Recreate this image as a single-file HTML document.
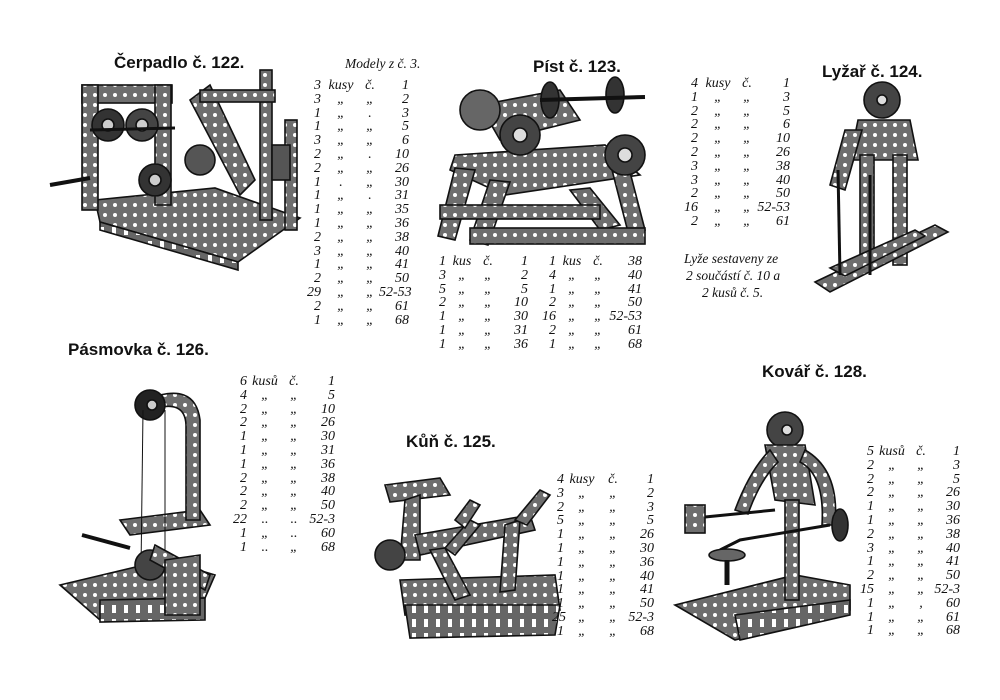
<!DOCTYPE html>
<html><head><meta charset="utf-8">
<style>
body{margin:0;background:#fff;}
#p{position:relative;width:1000px;height:700px;overflow:hidden;background:#fff;}
.h{position:absolute;font-family:"Liberation Sans",sans-serif;font-weight:bold;font-size:17px;color:#111;white-space:nowrap;}
.l{position:absolute;font-family:"Liberation Serif",serif;font-style:italic;font-size:14px;color:#111;}
.r{display:grid;height:13.8px;line-height:13.8px;white-space:nowrap;}
.r span:first-child,.r span:last-child{text-align:right;}
.r span:nth-child(2),.r span:nth-child(3){text-align:center;}
.t{position:absolute;font-family:"Liberation Serif",serif;font-style:italic;font-size:13.5px;color:#111;white-space:nowrap;}
svg{position:absolute;left:0;top:0;}
</style></head><body><div id="p">
<svg width="1000" height="700">
<defs>
<pattern id="ho" width="10" height="10" patternUnits="userSpaceOnUse"><rect width="10" height="10" fill="#6e6e6e"/><circle cx="5" cy="5" r="2" fill="#fff"/></pattern>
<pattern id="sl" width="12" height="14" patternUnits="userSpaceOnUse"><rect width="12" height="14" fill="#666"/><rect x="4" y="3" width="4" height="8" fill="#fff"/></pattern>
</defs>
<g stroke="#111" stroke-width="1.6">
<polygon points="95,200 215,188 300,218 238,262 100,222" fill="url(#ho)"/>
<polygon points="100,222 238,262 238,270 100,230" fill="url(#sl)"/>
<rect x="82" y="85" width="90" height="18" fill="url(#ho)"/>
<rect x="82" y="85" width="16" height="125" fill="url(#ho)"/>
<rect x="155" y="85" width="16" height="120" fill="url(#ho)"/>
<polygon points="190,100 210,85 255,180 240,195" fill="url(#ho)"/>
<rect x="260" y="70" width="12" height="150" fill="url(#ho)"/>
<rect x="200" y="90" width="75" height="12" fill="url(#ho)"/>
<rect x="285" y="120" width="12" height="110" fill="url(#ho)"/>
<rect x="272" y="145" width="18" height="35" fill="#555"/>
<circle cx="108" cy="125" r="16" fill="#333"/><circle cx="108" cy="125" r="6" fill="#ccc"/>
<circle cx="142" cy="125" r="16" fill="#444"/><circle cx="142" cy="125" r="6" fill="#ccc"/>
<circle cx="155" cy="180" r="16" fill="#333"/><circle cx="155" cy="180" r="6" fill="#ccc"/>
<circle cx="200" cy="160" r="15" fill="#555"/>
<line x1="50" y1="185" x2="90" y2="178" stroke-width="4"/>
<line x1="90" y1="130" x2="175" y2="128" stroke-width="3"/>
<polygon points="455,155 605,145 640,175 505,195 450,170" fill="url(#ho)"/>
<polygon points="455,168 475,170 455,240 438,236" fill="url(#ho)"/>
<polygon points="490,180 510,182 488,245 470,240" fill="url(#ho)"/>
<polygon points="570,190 590,188 620,225 600,230" fill="url(#ho)"/>
<polygon points="612,170 630,172 645,230 628,232" fill="url(#ho)"/>
<rect x="470" y="228" width="175" height="16" fill="url(#ho)"/>
<rect x="440" y="205" width="160" height="14" fill="url(#ho)"/>
<polygon points="480,105 560,90 580,120 500,140" fill="url(#ho)"/>
<circle cx="480" cy="110" r="20" fill="#666"/>
<circle cx="520" cy="135" r="20" fill="#444"/><circle cx="520" cy="135" r="7" fill="#ddd"/>
<circle cx="625" cy="155" r="20" fill="#444"/><circle cx="625" cy="155" r="7" fill="#ddd"/>
<ellipse cx="550" cy="100" rx="9" ry="18" fill="#333"/><ellipse cx="615" cy="95" rx="9" ry="18" fill="#333"/>
<line x1="540" y1="100" x2="645" y2="97" stroke-width="4"/>
<circle cx="882" cy="100" r="18" fill="#444"/><circle cx="882" cy="100" r="5" fill="#ddd"/>
<polygon points="858,120 910,120 918,160 850,160" fill="url(#ho)"/>
<polygon points="845,130 862,130 845,190 830,185" fill="url(#ho)"/>
<rect x="860" y="155" width="14" height="110" fill="url(#ho)"/>
<rect x="893" y="155" width="14" height="110" fill="url(#ho)"/>
<polygon points="815,282 935,225 948,232 830,292" fill="url(#ho)"/>
<polygon points="830,268 915,230 925,236 845,276" fill="url(#ho)"/>
<line x1="838" y1="170" x2="840" y2="275" stroke-width="3"/>
<line x1="870" y1="175" x2="870" y2="275" stroke-width="3"/>
<polygon points="60,585 165,560 215,575 205,598 100,620" fill="url(#ho)"/>
<polygon points="100,600 205,598 205,620 100,622" fill="url(#sl)"/>
<polygon points="120,520 200,510 210,525 130,535" fill="url(#ho)"/>
<path d="M145,400 Q195,380 200,420 L200,520 L186,520 L186,425 Q185,398 150,410 Z" fill="url(#ho)"/>
<circle cx="150" cy="405" r="15" fill="#222"/><circle cx="152" cy="405" r="5" fill="#ccc"/>
<line x1="143" y1="410" x2="141" y2="570" stroke-width="1"/><line x1="165" y1="410" x2="165" y2="570" stroke-width="1"/>
<circle cx="150" cy="565" r="15" fill="#444"/>
<polygon points="155,545 210,575 205,590 150,560" fill="url(#ho)"/>
<polygon points="165,560 200,555 200,615 165,615" fill="url(#ho)"/>
<line x1="82" y1="535" x2="130" y2="548" stroke-width="4"/>
<polygon points="400,580 555,575 560,610 405,615" fill="url(#ho)"/>
<polygon points="405,605 560,605 555,635 410,638" fill="url(#sl)"/>
<polygon points="385,485 440,478 450,495 390,502" fill="url(#ho)"/>
<polygon points="405,500 420,495 420,560 400,560" fill="url(#ho)"/>
<polygon points="415,535 530,515 535,530 420,555" fill="url(#ho)"/>
<polygon points="430,550 445,548 470,595 455,600" fill="url(#ho)"/>
<polygon points="445,548 470,520 480,525 455,555" fill="url(#ho)"/>
<polygon points="505,525 520,520 515,590 500,592" fill="url(#ho)"/>
<polygon points="515,520 540,490 550,495 527,525" fill="url(#ho)"/>
<polygon points="455,520 470,500 480,505 465,528" fill="url(#ho)"/>
<circle cx="390" cy="555" r="15" fill="#444"/>
<polygon points="675,605 795,575 850,585 850,610 735,640" fill="url(#ho)"/>
<polygon points="735,615 850,600 850,615 740,640" fill="url(#sl)"/>
<circle cx="785" cy="430" r="18" fill="#444"/><circle cx="787" cy="430" r="5" fill="#ddd"/>
<polygon points="765,445 805,445 815,505 775,500" fill="url(#ho)"/>
<rect x="785" y="500" width="14" height="100" fill="url(#ho)"/>
<path d="M805,450 Q840,470 835,525 L822,525 Q825,475 800,462 Z" fill="url(#ho)"/>
<path d="M770,450 Q750,470 735,510 L748,514 Q760,480 778,462 Z" fill="url(#ho)"/>
<ellipse cx="840" cy="525" rx="8" ry="16" fill="#333"/>
<rect x="685" y="505" width="20" height="28" fill="url(#ho)"/>
<line x1="705" y1="517" x2="775" y2="510" stroke-width="3"/>
<path d="M720,550 L740,540 L830,525" fill="none" stroke-width="3"/>
<ellipse cx="727" cy="555" rx="18" ry="6" fill="#666"/>
<line x1="727" y1="560" x2="727" y2="585" stroke-width="5"/>
</g>
</svg>

<div class="h" style="left:114px;top:53px;">Čerpadlo č. 122.</div>
<div class="h" style="left:533px;top:57px;">Píst č. 123.</div>
<div class="h" style="left:822px;top:62px;">Lyžař č. 124.</div>
<div class="h" style="left:68px;top:340px;">Pásmovka č. 126.</div>
<div class="h" style="left:406px;top:432px;">Kůň č. 125.</div>
<div class="h" style="left:762px;top:362px;">Kovář č. 128.</div>
<div class="t" style="left:345px;top:56px;">Modely z č. 3.</div>

<div class="l" style="left:305px;top:79px;">
<div class="r" style="grid-template-columns:16px 40px 18px 30px"><span>3</span><span>kusy</span><span>č.</span><span>1</span></div>
<div class="r" style="grid-template-columns:16px 40px 18px 30px"><span>3</span><span>„</span><span>„</span><span>2</span></div>
<div class="r" style="grid-template-columns:16px 40px 18px 30px"><span>1</span><span>„</span><span>.</span><span>3</span></div>
<div class="r" style="grid-template-columns:16px 40px 18px 30px"><span>1</span><span>„</span><span>„</span><span>5</span></div>
<div class="r" style="grid-template-columns:16px 40px 18px 30px"><span>3</span><span>„</span><span>„</span><span>6</span></div>
<div class="r" style="grid-template-columns:16px 40px 18px 30px"><span>2</span><span>„</span><span>.</span><span>10</span></div>
<div class="r" style="grid-template-columns:16px 40px 18px 30px"><span>2</span><span>„</span><span>„</span><span>26</span></div>
<div class="r" style="grid-template-columns:16px 40px 18px 30px"><span>1</span><span>.</span><span>„</span><span>30</span></div>
<div class="r" style="grid-template-columns:16px 40px 18px 30px"><span>1</span><span>„</span><span>.</span><span>31</span></div>
<div class="r" style="grid-template-columns:16px 40px 18px 30px"><span>1</span><span>„</span><span>„</span><span>35</span></div>
<div class="r" style="grid-template-columns:16px 40px 18px 30px"><span>1</span><span>„</span><span>„</span><span>36</span></div>
<div class="r" style="grid-template-columns:16px 40px 18px 30px"><span>2</span><span>„</span><span>„</span><span>38</span></div>
<div class="r" style="grid-template-columns:16px 40px 18px 30px"><span>3</span><span>„</span><span>„</span><span>40</span></div>
<div class="r" style="grid-template-columns:16px 40px 18px 30px"><span>1</span><span>„</span><span>„</span><span>41</span></div>
<div class="r" style="grid-template-columns:16px 40px 18px 30px"><span>2</span><span>„</span><span>„</span><span>50</span></div>
<div class="r" style="grid-template-columns:16px 40px 18px 30px"><span>29</span><span>„</span><span>„</span><span>52-53</span></div>
<div class="r" style="grid-template-columns:16px 40px 18px 30px"><span>2</span><span>„</span><span>„</span><span>61</span></div>
<div class="r" style="grid-template-columns:16px 40px 18px 30px"><span>1</span><span>„</span><span>„</span><span>68</span></div>
</div>

<div class="l" style="left:436px;top:255px;">
<div class="r" style="grid-template-columns:10px 32px 20px 30px"><span>1</span><span>kus</span><span>č.</span><span>1</span></div>
<div class="r" style="grid-template-columns:10px 32px 20px 30px"><span>3</span><span>„</span><span>„</span><span>2</span></div>
<div class="r" style="grid-template-columns:10px 32px 20px 30px"><span>5</span><span>„</span><span>„</span><span>5</span></div>
<div class="r" style="grid-template-columns:10px 32px 20px 30px"><span>2</span><span>„</span><span>„</span><span>10</span></div>
<div class="r" style="grid-template-columns:10px 32px 20px 30px"><span>1</span><span>„</span><span>„</span><span>30</span></div>
<div class="r" style="grid-template-columns:10px 32px 20px 30px"><span>1</span><span>„</span><span>„</span><span>31</span></div>
<div class="r" style="grid-template-columns:10px 32px 20px 30px"><span>1</span><span>„</span><span>„</span><span>36</span></div>
</div>
<div class="l" style="left:540px;top:255px;">
<div class="r" style="grid-template-columns:16px 32px 20px 34px"><span>1</span><span>kus</span><span>č.</span><span>38</span></div>
<div class="r" style="grid-template-columns:16px 32px 20px 34px"><span>4</span><span>„</span><span>„</span><span>40</span></div>
<div class="r" style="grid-template-columns:16px 32px 20px 34px"><span>1</span><span>„</span><span>„</span><span>41</span></div>
<div class="r" style="grid-template-columns:16px 32px 20px 34px"><span>2</span><span>„</span><span>„</span><span>50</span></div>
<div class="r" style="grid-template-columns:16px 32px 20px 34px"><span>16</span><span>„</span><span>„</span><span>52-53</span></div>
<div class="r" style="grid-template-columns:16px 32px 20px 34px"><span>2</span><span>„</span><span>„</span><span>61</span></div>
<div class="r" style="grid-template-columns:16px 32px 20px 34px"><span>1</span><span>„</span><span>„</span><span>68</span></div>
</div>

<div class="l" style="left:684px;top:77px;">
<div class="r" style="grid-template-columns:14px 40px 18px 34px"><span>4</span><span>kusy</span><span>č.</span><span>1</span></div>
<div class="r" style="grid-template-columns:14px 40px 18px 34px"><span>1</span><span>„</span><span>„</span><span>3</span></div>
<div class="r" style="grid-template-columns:14px 40px 18px 34px"><span>2</span><span>„</span><span>„</span><span>5</span></div>
<div class="r" style="grid-template-columns:14px 40px 18px 34px"><span>2</span><span>„</span><span>„</span><span>6</span></div>
<div class="r" style="grid-template-columns:14px 40px 18px 34px"><span>2</span><span>„</span><span>„</span><span>10</span></div>
<div class="r" style="grid-template-columns:14px 40px 18px 34px"><span>2</span><span>„</span><span>„</span><span>26</span></div>
<div class="r" style="grid-template-columns:14px 40px 18px 34px"><span>3</span><span>„</span><span>„</span><span>38</span></div>
<div class="r" style="grid-template-columns:14px 40px 18px 34px"><span>3</span><span>„</span><span>„</span><span>40</span></div>
<div class="r" style="grid-template-columns:14px 40px 18px 34px"><span>2</span><span>„</span><span>„</span><span>50</span></div>
<div class="r" style="grid-template-columns:14px 40px 18px 34px"><span>16</span><span>„</span><span>„</span><span>52-53</span></div>
<div class="r" style="grid-template-columns:14px 40px 18px 34px"><span>2</span><span>„</span><span>„</span><span>61</span></div>
</div>
<div class="t" style="left:684px;top:251px;">Lyže sestaveny ze</div>
<div class="t" style="left:686px;top:268px;">2 součástí č. 10 a</div>
<div class="t" style="left:702px;top:285px;">2 kusů č. 5.</div>

<div class="l" style="left:233px;top:375px;">
<div class="r" style="grid-template-columns:14px 36px 22px 30px"><span>6</span><span>kusů</span><span>č.</span><span>1</span></div>
<div class="r" style="grid-template-columns:14px 36px 22px 30px"><span>4</span><span>„</span><span>„</span><span>5</span></div>
<div class="r" style="grid-template-columns:14px 36px 22px 30px"><span>2</span><span>„</span><span>„</span><span>10</span></div>
<div class="r" style="grid-template-columns:14px 36px 22px 30px"><span>2</span><span>„</span><span>„</span><span>26</span></div>
<div class="r" style="grid-template-columns:14px 36px 22px 30px"><span>1</span><span>„</span><span>„</span><span>30</span></div>
<div class="r" style="grid-template-columns:14px 36px 22px 30px"><span>1</span><span>„</span><span>„</span><span>31</span></div>
<div class="r" style="grid-template-columns:14px 36px 22px 30px"><span>1</span><span>„</span><span>„</span><span>36</span></div>
<div class="r" style="grid-template-columns:14px 36px 22px 30px"><span>2</span><span>„</span><span>„</span><span>38</span></div>
<div class="r" style="grid-template-columns:14px 36px 22px 30px"><span>2</span><span>„</span><span>„</span><span>40</span></div>
<div class="r" style="grid-template-columns:14px 36px 22px 30px"><span>2</span><span>„</span><span>„</span><span>50</span></div>
<div class="r" style="grid-template-columns:14px 36px 22px 30px"><span>22</span><span>..</span><span>..</span><span>52-3</span></div>
<div class="r" style="grid-template-columns:14px 36px 22px 30px"><span>1</span><span>„</span><span>..</span><span>60</span></div>
<div class="r" style="grid-template-columns:14px 36px 22px 30px"><span>1</span><span>..</span><span>„</span><span>68</span></div>
</div>

<div class="l" style="left:552px;top:473px;">
<div class="r" style="grid-template-columns:12px 36px 26px 28px"><span>4</span><span>kusy</span><span>č.</span><span>1</span></div>
<div class="r" style="grid-template-columns:12px 36px 26px 28px"><span>3</span><span>„</span><span>„</span><span>2</span></div>
<div class="r" style="grid-template-columns:12px 36px 26px 28px"><span>2</span><span>„</span><span>„</span><span>3</span></div>
<div class="r" style="grid-template-columns:12px 36px 26px 28px"><span>5</span><span>„</span><span>„</span><span>5</span></div>
<div class="r" style="grid-template-columns:12px 36px 26px 28px"><span>1</span><span>„</span><span>„</span><span>26</span></div>
<div class="r" style="grid-template-columns:12px 36px 26px 28px"><span>1</span><span>„</span><span>„</span><span>30</span></div>
<div class="r" style="grid-template-columns:12px 36px 26px 28px"><span>1</span><span>„</span><span>„</span><span>36</span></div>
<div class="r" style="grid-template-columns:12px 36px 26px 28px"><span>1</span><span>„</span><span>„</span><span>40</span></div>
<div class="r" style="grid-template-columns:12px 36px 26px 28px"><span>1</span><span>„</span><span>„</span><span>41</span></div>
<div class="r" style="grid-template-columns:12px 36px 26px 28px"><span>1</span><span>„</span><span>„</span><span>50</span></div>
<div class="r" style="grid-template-columns:12px 36px 26px 28px"><span>25</span><span>„</span><span>„</span><span>52-3</span></div>
<div class="r" style="grid-template-columns:12px 36px 26px 28px"><span>1</span><span>„</span><span>„</span><span>68</span></div>
</div>

<div class="l" style="left:860px;top:445px;">
<div class="r" style="grid-template-columns:14px 36px 22px 28px"><span>5</span><span>kusů</span><span>č.</span><span>1</span></div>
<div class="r" style="grid-template-columns:14px 36px 22px 28px"><span>2</span><span>„</span><span>„</span><span>3</span></div>
<div class="r" style="grid-template-columns:14px 36px 22px 28px"><span>2</span><span>„</span><span>„</span><span>5</span></div>
<div class="r" style="grid-template-columns:14px 36px 22px 28px"><span>2</span><span>„</span><span>„</span><span>26</span></div>
<div class="r" style="grid-template-columns:14px 36px 22px 28px"><span>1</span><span>„</span><span>„</span><span>30</span></div>
<div class="r" style="grid-template-columns:14px 36px 22px 28px"><span>1</span><span>„</span><span>„</span><span>36</span></div>
<div class="r" style="grid-template-columns:14px 36px 22px 28px"><span>2</span><span>„</span><span>„</span><span>38</span></div>
<div class="r" style="grid-template-columns:14px 36px 22px 28px"><span>3</span><span>„</span><span>„</span><span>40</span></div>
<div class="r" style="grid-template-columns:14px 36px 22px 28px"><span>1</span><span>„</span><span>„</span><span>41</span></div>
<div class="r" style="grid-template-columns:14px 36px 22px 28px"><span>2</span><span>„</span><span>„</span><span>50</span></div>
<div class="r" style="grid-template-columns:14px 36px 22px 28px"><span>15</span><span>„</span><span>„</span><span>52-3</span></div>
<div class="r" style="grid-template-columns:14px 36px 22px 28px"><span>1</span><span>„</span><span>,</span><span>60</span></div>
<div class="r" style="grid-template-columns:14px 36px 22px 28px"><span>1</span><span>„</span><span>„</span><span>61</span></div>
<div class="r" style="grid-template-columns:14px 36px 22px 28px"><span>1</span><span>„</span><span>„</span><span>68</span></div>
</div>
</div></body></html>
